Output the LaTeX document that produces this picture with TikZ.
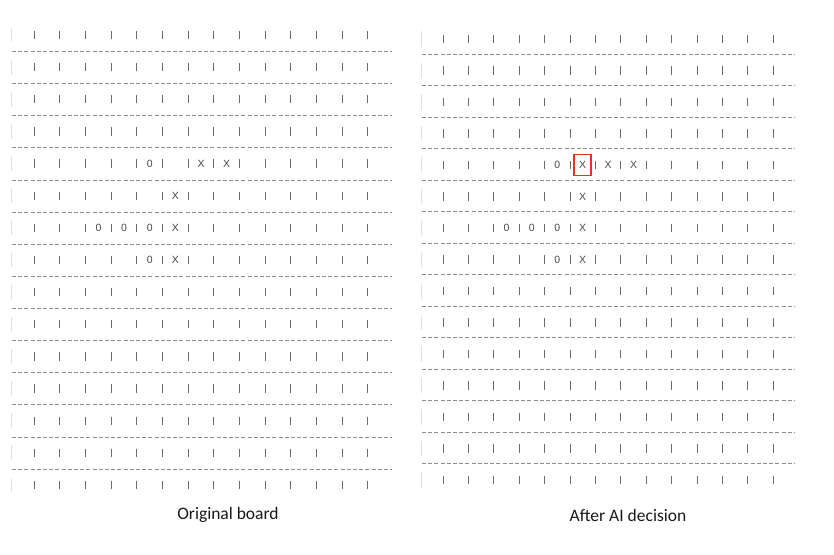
\documentclass[tikz,border=0pt]{standalone}
\usepackage{fontspec}
\setmainfont{Carlito}
\newfontfamily\cellfont{Liberation Sans}
\definecolor{pick}{RGB}{232,48,38}
\begin{document}
\begin{tikzpicture}[x=1pt,y=-1pt,
    bar/.style={black!58,line width=1pt},
    edge/.style={black!12,line width=1pt},
    rule/.style={black!45,line width=0.9pt,dash pattern=on 4pt off 2.2pt},
    stone/.style={font=\cellfont\fontsize{10.5}{11}\selectfont,text=black!72,inner sep=0pt},
    caption/.style={font=\fontsize{17.5}{20}\selectfont,text=black!90}]
    \useasboundingbox (0,0) rectangle (834,554);
    % original board
    \begin{scope}[shift={(34.3,35)},x=25.65pt,y=-32.14pt]
        \foreach \r in {0,...,14}{
            \draw [edge] (-0.87,\r-0.23)--(-0.87,\r+0.23);
            \foreach \c in {0,...,13} \draw [bar] (\c,\r-0.13)--(\c,\r+0.13);
        }
        \foreach \r in {0,...,13} \draw [rule] (-0.87,\r+0.51)--(13.95,\r+0.51);
        \foreach \c/\r/\s [count=\n] in {4.5/4/0,6.5/4/X,7.5/4/X,5.5/5/X,2.5/6/0,3.5/6/0,4.5/6/0,5.5/6/X,4.5/7/0,5.5/7/X}
            \node [stone] (orig\n) at (\c,\r) {\s};
    \end{scope}
    % board after the move
    \begin{scope}[shift={(443,39)},x=25.4pt,y=-31.5pt]
        \foreach \r in {0,...,14}{
            \draw [edge] (-0.83,\r-0.24)--(-0.83,\r+0.24);
            \foreach \c in {0,...,13} \draw [bar] (\c,\r-0.13)--(\c,\r+0.13);
        }
        \foreach \r in {0,...,13} \draw [rule] (-0.83,\r+0.48)--(13.86,\r+0.48);
        \foreach \c/\r/\s [count=\n] in {4.5/4/0,6.5/4/X,7.5/4/X,5.5/5/X,2.5/6/0,3.5/6/0,4.5/6/0,5.5/6/X,4.5/7/0,5.5/7/X}
            \node [stone] (ai\n) at (\c,\r) {\s};
        \node [stone,draw=pick,line width=1.6pt,minimum width=17pt,minimum height=21pt] (aimove) at (5.5,4) {X};
    \end{scope}
    \node [caption] (origcap) at (228,515) {Original board};
    \node [caption] (aicap) at (628,515) {After AI decision};
\end{tikzpicture}
\end{document}
